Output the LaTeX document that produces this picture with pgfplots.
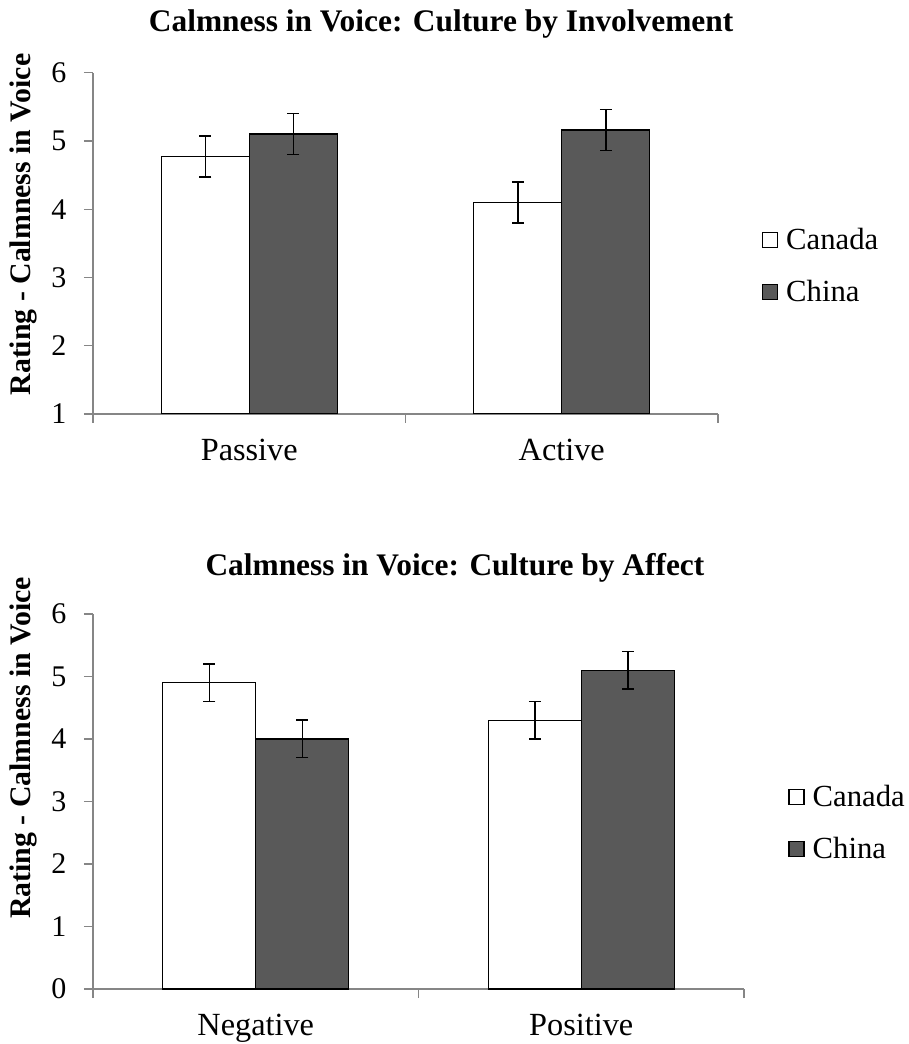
\documentclass[border=0pt]{standalone}
\usepackage{fontspec}
\setmainfont{Liberation Serif}
\usepackage{pgfplots}
\pgfplotsset{compat=1.18}
\definecolor{axisgray}{RGB}{134,134,134}
\definecolor{chinagray}{RGB}{89,89,89}
\pgfplotsset{
  mybar/.style={
    scale only axis,
    ybar=0pt,
    axis lines*=left,
    axis line style={axisgray, line width=1.3pt},
    xmin=0.5, xmax=2.5,
    xtick={1,2},
    minor xtick={0.5,1.5,2.5},
    major x tick style={draw=none},
    minor x tick style={axisgray, line width=1.3pt},
    y tick style={axisgray, line width=1.3pt},
    tick align=outside,
    major tick length=9pt,
    minor tick length=9pt,
    /pgf/number format/assume math mode=true,
    yticklabel style={font=\fontsize{30}{36}\selectfont, xshift=-14pt},
    xticklabel style={font=\fontsize{32.3}{38}\selectfont, yshift=-13pt},
    title style={font=\bfseries\fontsize{31.4}{36}\selectfont, anchor=center},
    ylabel={Rating - Calmness in Voice},
    ylabel style={font=\bfseries\fontsize{29.8}{34}\selectfont, rotate=0, anchor=center},
    legend style={draw=none, fill=none, inner sep=0pt, row sep=25pt,
      font=\fontsize{30.7}{36}\selectfont, legend cell align=left},
    clip=true,
  },
  canada/.style={fill=white, draw=black, line width=1.3pt,
    /pgfplots/legend image code/.code={\draw[black, fill=white, line width=1.2pt] (0pt,-7.5pt) rectangle (15pt,7.5pt); \path (21pt,0pt);},
    /pgfplots/error bars/.cd, y dir=both, y explicit,
    error bar style={black, line width=1.5pt},
    error mark options={black, rotate=90, mark size=6pt, line width=1.5pt},
    /pgfplots/.cd},
  china/.style={fill=chinagray, draw=black, line width=1.3pt,
    /pgfplots/legend image code/.code={\draw[black, fill=chinagray, line width=1.2pt] (0pt,-7.5pt) rectangle (15pt,7.5pt); \path (21pt,0pt);},
    /pgfplots/error bars/.cd, y dir=both, y explicit,
    error bar style={black, line width=1.5pt},
    error mark options={black, rotate=90, mark size=6pt, line width=1.5pt},
    /pgfplots/.cd},
}
\begin{document}
\begin{tikzpicture}
\useasboundingbox (0,0) rectangle (908pt,1044pt);
% Top chart
\begin{axis}[mybar, at={(93pt,630pt)}, anchor=south west,
  width=625pt, height=341.3pt,
  ymin=1, ymax=6, ytick={1,2,3,4,5,6},
  bar width=88pt,
  xticklabels={Passive,Active},
  title={Calmness in Voice: Culture by Involvement},
  title style={at={(0.557,1.125)}},
  ylabel style={at={(-0.112,0.555)}},
  legend style={at={(1.07,0.434)}, anchor=west},
]
\addplot[canada]
  coordinates {(1,4.77) +- (0,0.3) (2,4.10) +- (0,0.3)};
\addplot[china]
  coordinates {(1,5.10) +- (0,0.3) (2,5.16) +- (0,0.3)};
\legend{Canada,China}
\end{axis}
% Bottom chart
\begin{axis}[mybar, at={(93pt,55pt)}, anchor=south west,
  width=651pt, height=375pt,
  ymin=0, ymax=6, ytick={0,1,2,3,4,5,6},
  bar width=93pt,
  xticklabels={Negative,Positive},
  title={Calmness in Voice: Culture by Affect},
  title style={at={(0.556,1.1067)}},
  ylabel style={at={(-0.1075,0.643)}},
  legend style={at={(1.068,0.443)}, anchor=west},
]
\addplot[canada]
  coordinates {(1,4.90) +- (0,0.3) (2,4.30) +- (0,0.3)};
\addplot[china]
  coordinates {(1,4.00) +- (0,0.3) (2,5.10) +- (0,0.3)};
\legend{Canada,China}
\end{axis}
\end{tikzpicture}
\end{document}
